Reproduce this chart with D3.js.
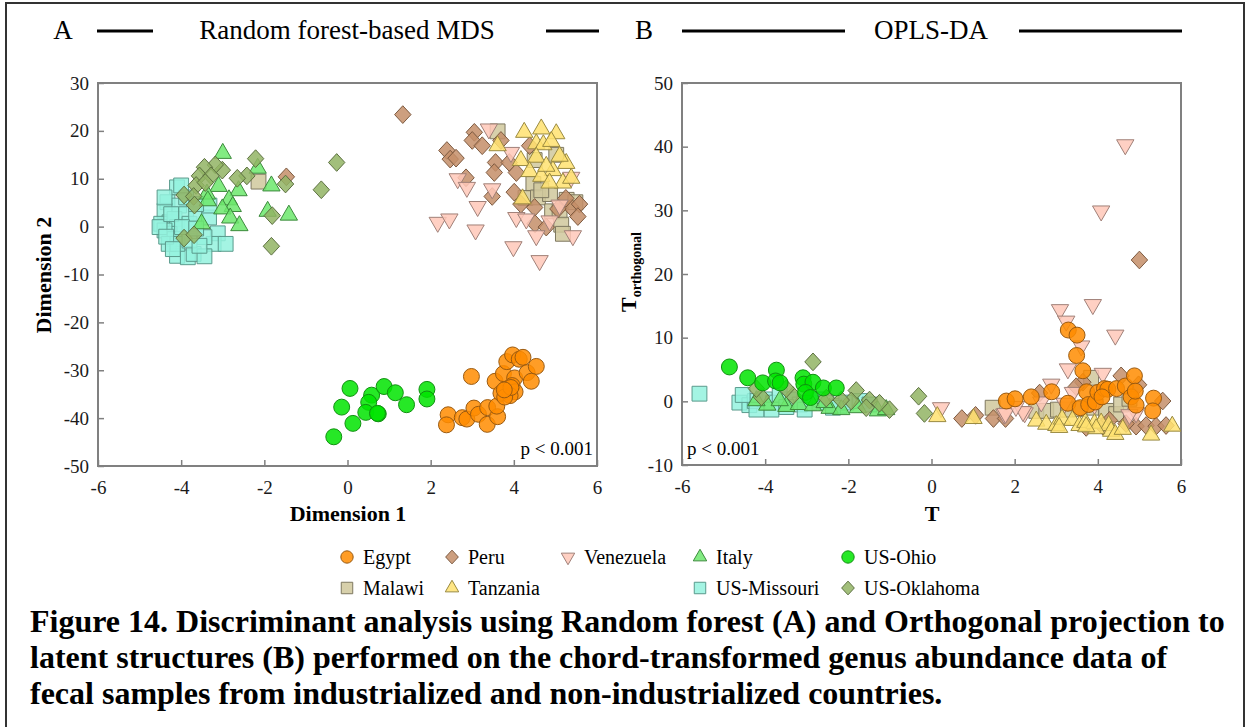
<!DOCTYPE html>
<html>
<head>
<meta charset="utf-8">
<script src="https://cdn.jsdelivr.net/npm/d3@7"></script>
<style>
  body { margin: 0; background: #fff; }
  svg { display: block; font-family: "Liberation Serif", "Times New Roman", serif; }
</style>
</head>
<body>
<svg id="chart" width="1249" height="727"></svg>
<script>
// ---- data: panel A (random forest MDS), [dim1, dim2]
const egyptA = [[2.42,-39.3],[2.38,-41.4],[2.76,-39.9],[2.87,-40.2],[2.98,-31.3],[3.04,-37.9],[3.15,-39.2],[3.37,-37.8],[3.36,-41.3],[3.61,-39.7],[3.59,-37.5],[3.55,-32.3],[3.75,-30.7],[3.69,-34.8],[3.80,-34.0],[3.83,-28.2],[3.97,-26.8],[4.13,-27.7],[4.22,-27.3],[4.02,-31.6],[3.96,-33.2],[4.03,-34.5],[3.91,-35.3],[3.78,-35.6],[4.32,-30.5],[4.54,-29.2],[4.42,-32.3],[3.93,-33.6],[3.77,-34.1]];
const ohioA = [[0.06,-33.8],[-0.14,-37.7],[0.58,-35.2],[0.51,-36.7],[0.44,-38.8],[0.74,-39.1],[0.72,-39.0],[0.88,-33.4],[1.15,-34.7],[1.42,-37.2],[1.91,-34.0],[1.91,-36.0],[0.13,-41.1],[-0.33,-43.9]];
const missouriA = [[-4.10,8.2],[-4.33,5.1],[-4.05,4.4],[-4.40,3.3],[-4.28,0.9],[-4.48,0.6],[-4.16,1.6],[-3.88,2.6],[-4.10,-0.1],[-4.28,-1.5],[-4.40,-0.8],[-4.16,-2.6],[-3.80,0.6],[-3.64,2.6],[-3.33,1.9],[-3.32,4.4],[-3.12,-1.4],[-3.22,-3.6],[-2.93,-3.6],[-3.44,-2.2],[-4.10,-6.1],[-3.84,-6.4],[-3.70,-5.7],[-3.44,-6.2],[-4.30,-3.6],[-4.09,-3.6],[-3.80,-2.9],[-4.40,6.1],[-3.88,6.1],[-3.64,4.7],[-4.00,8.6],[-4.52,-0.1],[-4.24,2.6],[-4.36,-2.1],[-3.98,-0.1],[-4.20,-4.7],[-3.64,-0.4],[-3.56,-4.0]];
const italyA = [[-3.00,15.3],[-2.16,12.2],[-3.10,8.4],[-2.62,7.5],[-1.83,8.5],[-3.38,6.8],[-3.36,5.4],[-2.85,5.6],[-2.76,4.2],[-3.01,3.7],[-2.82,1.8],[-2.60,0.2],[-1.92,3.2],[-1.41,2.4],[-3.51,0.6]];
const oklahomaA = [[-2.21,14.2],[-0.26,13.4],[-0.63,7.7],[-1.49,8.9],[-1.81,2.3],[-1.83,-4.1],[-2.42,10.6],[-2.65,10.1],[-3.01,11.8],[-3.18,12.9],[-3.44,12.4],[-3.56,10.6],[-3.28,10.6],[-3.64,8.6],[-3.93,6.6],[-3.70,6.3],[-3.68,4.5],[-3.93,-2.4],[-3.69,-1.7],[-3.42,9.2]];
const peruA = [[-1.47,10.4],[1.33,23.4],[3.05,19.7],[3.00,18.0],[3.24,16.9],[2.39,15.9],[2.47,14.1],[2.61,14.3],[2.85,10.2],[3.56,13.4],[3.53,11.3],[3.48,6.3],[3.89,13.4],[4.06,11.3],[4.01,7.2],[3.69,18.0],[4.38,16.9],[4.17,4.7],[4.50,4.0],[4.51,0.6],[4.78,-0.1],[5.38,4.0],[5.58,4.7],[5.54,2.1],[5.25,5.9],[5.06,3.7]];
const venezuelaA = [[3.40,20.4],[3.93,15.5],[2.65,10.0],[2.87,8.2],[3.48,7.9],[3.13,4.2],[2.17,0.9],[2.45,1.6],[3.08,-0.7],[3.99,-4.2],[4.54,-1.9],[4.62,-7.1],[4.06,1.9],[4.30,1.6],[5.38,10.3],[5.42,-1.9],[4.86,1.2],[5.10,4.5]];
const tanzaniaA = [[4.25,19.7],[4.66,20.4],[5.02,19.4],[3.61,16.9],[4.54,17.3],[4.71,17.1],[4.90,17.8],[4.17,13.8],[4.54,14.5],[5.26,13.2],[4.38,11.5],[4.94,11.7],[4.66,10.5],[5.18,9.1],[5.38,10.1],[4.21,5.8],[4.86,9.1],[4.78,12.6],[5.10,14.7]];
const malawiA = [[-2.14,9.4],[3.61,19.9],[5.02,15.0],[4.50,13.9],[4.47,8.9],[4.28,6.0],[4.58,6.1],[4.87,6.8],[5.27,5.6],[5.48,5.1],[4.92,3.2],[5.10,3.2],[5.14,0.4],[5.18,-1.5],[4.66,7.6]];

// ---- data: panel B (OPLS-DA), [T, T orthogonal]
const egyptB = [[3.29,11.2],[3.50,10.4],[3.49,7.2],[3.64,4.8],[1.80,0.05],[2.01,0.4],[2.40,0.7],[2.89,1.5],[3.28,-0.3],[3.58,-1.0],[3.73,1.5],[3.78,-0.5],[3.94,-0.1],[4.00,1.4],[4.16,2.0],[4.24,1.9],[4.10,0.7],[4.45,2.0],[4.66,2.4],[4.88,4.0],[4.80,0.7],[4.92,-0.6],[5.34,0.5],[5.32,-1.5],[4.90,1.6]];
const ohioB = [[-4.86,5.4],[-4.42,3.7],[-4.06,2.9],[-3.73,4.9],[-3.75,3.2],[-3.64,2.9],[-3.09,3.7],[-3.07,2.7],[-2.85,3.0],[-3.03,1.4],[-2.91,0.6],[-2.60,2.1],[-2.29,2.1]];
const missouriB = [[-5.58,1.2],[-4.62,-0.2],[-4.38,-0.6],[-4.25,0.05],[-4.54,1.0],[-4.01,0.3],[-3.81,-0.2],[-3.65,1.0],[-3.85,-1.3],[-3.41,0.3],[-3.17,-0.5],[-2.93,-0.2],[-2.69,0.3],[-2.53,-0.2],[-3.05,-1.3],[-2.21,-0.7],[-2.05,-0.2],[-1.73,0.05],[-1.49,-0.5],[-4.21,-1.3],[-3.49,-0.9],[-2.37,-1.0]];
const italyB = [[-3.95,-0.6],[-3.49,-0.8],[-3.19,-0.5],[-2.85,-0.7],[-2.45,-1.1],[-2.17,-1.3],[-1.77,-1.0],[-1.29,-1.5],[-1.09,-1.3],[-3.65,0.1],[-2.57,-0.2],[-4.21,0.1]];
const oklahomaB = [[-2.85,6.2],[-1.81,1.7],[-0.31,0.8],[-0.17,-1.9],[-1.93,0.05],[-1.49,0.2],[-1.57,-1.0],[-1.01,-1.3],[-4.09,0.7],[-3.33,0.9],[-3.49,2.0],[-2.17,0.2],[-2.53,0.5],[-1.25,-0.3],[-4.21,2.0]];
const peruB = [[5.00,22.2],[0.73,-2.7],[1.06,-2.2],[1.49,-2.7],[1.78,-2.7],[2.60,1.3],[3.64,3.0],[4.56,4.0],[4.98,2.6],[5.56,0.05],[4.92,-3.9],[5.16,-3.8],[5.40,-3.9],[4.68,-3.5],[5.64,-3.8],[3.72,-4.1],[4.12,-3.9],[3.48,2.3],[4.28,-3.0]];
const venezuelaB = [[4.66,40.3],[4.08,29.9],[3.88,15.2],[3.09,14.4],[3.24,12.6],[4.42,10.4],[3.60,8.7],[3.28,5.1],[4.12,4.4],[2.88,2.7],[1.75,-2.0],[2.24,-1.8],[3.40,1.4],[4.92,-1.8],[0.23,-1.0],[1.78,-1.9],[2.20,-1.6],[2.03,-0.8],[3.20,-0.3],[2.64,-0.1],[3.92,-0.5],[4.76,-2.1]];
const tanzaniaB = [[0.14,-2.4],[1.01,-2.7],[2.52,-3.1],[2.76,-3.6],[3.00,-3.8],[3.14,-2.8],[3.39,-3.0],[3.56,-3.8],[3.70,-3.3],[3.92,-3.5],[4.08,-3.4],[4.26,-3.8],[4.32,-4.7],[4.42,-5.2],[4.60,-4.4],[5.28,-5.3],[5.79,-3.9],[3.07,-4.1],[3.96,-4.3],[3.72,-4.0]];
const malawiB = [[1.47,-1.0],[2.52,-1.5],[2.76,-1.5],[3.04,-1.3],[3.84,3.7],[4.20,-1.5],[4.44,-2.0],[4.56,-0.5],[3.84,-1.0],[3.28,-1.3],[3.56,-1.2],[4.76,0.4]];

// ticks
const xTicks = [-6, -4, -2, 0, 2, 4, 6];
const yTicksA = [-50, -40, -30, -20, -10, 0, 10, 20, 30];
const yTicksB = [-10, 0, 10, 20, 30, 40, 50];

// legend rows as they appear
const legendRow1 = ['Egypt', 'Peru', 'Venezuela', 'Italy', 'US-Ohio'];
const legendRow2 = ['Malawi', 'Tanzania', null, 'US-Missouri', 'US-Oklahoma'];

const svg = d3.select('#chart');

// custom diamond (a rotated square, slightly tall)
const diamond = {
  draw(ctx, size) {
    const r = Math.sqrt(size) * 0.58;
    ctx.moveTo(0, -r * 1.08);
    ctx.lineTo(r, 0);
    ctx.lineTo(0, r * 1.08);
    ctx.lineTo(-r, 0);
    ctx.closePath();
  }
};
const triDown = {
  draw(ctx, size) {
    const s = Math.sqrt(size * 4 / Math.sqrt(3));
    const h = s * Math.sqrt(3) / 2;
    ctx.moveTo(-s / 2, -h / 3);
    ctx.lineTo(s / 2, -h / 3);
    ctx.lineTo(0, 2 * h / 3);
    ctx.closePath();
  }
};

// style per country
const styles = {
  'Egypt':       { sym: d3.symbolCircle,   fill: '#ff8c00', stroke: '#9a5a10', size: 200 },
  'Peru':        { sym: diamond,           fill: '#c48e68', stroke: '#7d5a40', size: 200 },
  'Venezuela':   { sym: triDown,           fill: '#ffc8b8', stroke: '#a08078', size: 130 },
  'Italy':       { sym: d3.symbolTriangle, fill: '#6ce86c', stroke: '#3c8a3c', size: 130 },
  'US-Ohio':     { sym: d3.symbolCircle,   fill: '#00e400', stroke: '#109010', size: 200 },
  'Malawi':      { sym: d3.symbolSquare,   fill: '#d0c89c', stroke: '#7e7860', size: 220 },
  'Tanzania':    { sym: d3.symbolTriangle, fill: '#ffe270', stroke: '#9a8a40', size: 130 },
  'US-Missouri': { sym: d3.symbolSquare,   fill: '#94f2de', stroke: '#5a9a8c', size: 220 },
  'US-Oklahoma': { sym: diamond,           fill: '#92b464', stroke: '#5c7040', size: 200 }
};

// drawing order (first drawn = bottom)
const layersA = [
  ['US-Missouri', missouriA], ['Malawi', malawiA], ['Peru', peruA], ['Venezuela', venezuelaA],
  ['Tanzania', tanzaniaA], ['Italy', italyA], ['US-Oklahoma', oklahomaA], ['Egypt', egyptA], ['US-Ohio', ohioA]
];
const layersB = [
  ['US-Missouri', missouriB], ['Malawi', malawiB], ['Peru', peruB], ['Venezuela', venezuelaB],
  ['Tanzania', tanzaniaB], ['Italy', italyB], ['US-Oklahoma', oklahomaB], ['US-Ohio', ohioB], ['Egypt', egyptB]
];

// figure frame
svg.append('rect')
  .attr('x', 6).attr('y', 3).attr('width', 1238).attr('height', 740)
  .attr('fill', 'none').attr('stroke', '#333').attr('stroke-width', 2);

function panel(opts) {
  const { left, right, top, bottom, yDomain, yTicks, layers } = opts;
  const x = d3.scaleLinear().domain([-6, 6]).range([left, right]);
  const y = d3.scaleLinear().domain(yDomain).range([bottom, top]);
  const g = svg.append('g');

  // plain hyphen for negatives, like the original
  const fmt = d => String(d);
  const xAxis = d3.axisBottom(x).tickValues(xTicks).tickSizeInner(-6).tickSizeOuter(0).tickPadding(15)
    .tickFormat(fmt);
  const yAxis = d3.axisLeft(y).tickValues(yTicks).tickSizeInner(-6).tickSizeOuter(0).tickPadding(9)
    .tickFormat(fmt);

  const gx = g.append('g').attr('transform', `translate(0,${bottom})`).call(xAxis);
  const gy = g.append('g').attr('transform', `translate(${left},0)`).call(yAxis);
  [gx, gy].forEach(a => {
    a.select('.domain').remove();
    a.selectAll('line').attr('stroke', '#808080').attr('stroke-width', 1.5);
    a.selectAll('text').attr('font-size', 19).attr('fill', '#1a1a1a')
      .attr('font-family', '"Liberation Serif", serif');
  });

  // frame box
  g.append('rect')
    .attr('x', left).attr('y', top).attr('width', right - left).attr('height', bottom - top)
    .attr('fill', 'none').attr('stroke', '#808080').attr('stroke-width', 2);

  const marks = g.append('g');
  layers.forEach(([name, pts]) => {
    const s = styles[name];
    marks.append('g').selectAll('path')
      .data(pts)
      .join('path')
      .attr('transform', d => `translate(${x(d[0])},${y(d[1])})`)
      .attr('d', d3.symbol().type(s.sym).size(s.size))
      .attr('fill', s.fill)
      .attr('fill-opacity', 0.85)
      .attr('stroke', s.stroke)
      .attr('stroke-width', 1);
  });
  return { x, y, g };
}

const pA = panel({ left: 98, right: 597, top: 83, bottom: 466, yDomain: [-50, 30], yTicks: yTicksA, layers: layersA });
const pB = panel({ left: 682, right: 1181, top: 83, bottom: 465, yDomain: [-10, 50], yTicks: yTicksB, layers: layersB });

// p-values
pA.g.append('text').attr('x', 593).attr('y', 455).attr('text-anchor', 'end')
  .attr('font-size', 19).text('p < 0.001');
pB.g.append('text').attr('x', 687).attr('y', 455)
  .attr('font-size', 19).text('p < 0.001');

// axis titles
svg.append('text').attr('x', 348).attr('y', 521).attr('text-anchor', 'middle')
  .attr('font-size', 22).attr('font-weight', 'bold').text('Dimension 1');
svg.append('text').attr('transform', 'translate(51,275) rotate(-90)').attr('text-anchor', 'middle')
  .attr('font-size', 22).attr('font-weight', 'bold').text('Dimension 2');
svg.append('text').attr('x', 932).attr('y', 521).attr('text-anchor', 'middle')
  .attr('font-size', 22).attr('font-weight', 'bold').text('T');
const yl = svg.append('text').attr('transform', 'translate(636,272) rotate(-90)').attr('text-anchor', 'middle')
  .attr('font-weight', 'bold');
yl.append('tspan').attr('font-size', 22).text('T');
yl.append('tspan').attr('font-size', 14).attr('dy', 5).text('orthogonal');

// panel headers
const header = [
  { label: 'A', lx: 63, title: 'Random forest-based MDS', tx: 347, lines: [[97, 153], [546, 599]] },
  { label: 'B', lx: 644, title: 'OPLS-DA', tx: 931, lines: [[682, 845], [1019, 1182]] }
];
header.forEach(h => {
  svg.append('text').attr('x', h.lx).attr('y', 39).attr('text-anchor', 'middle')
    .attr('font-size', 27).text(h.label);
  svg.append('text').attr('x', h.tx).attr('y', 39).attr('text-anchor', 'middle')
    .attr('font-size', 27).text(h.title);
  h.lines.forEach(([a, b]) => {
    svg.append('line').attr('x1', a).attr('x2', b).attr('y1', 31).attr('y2', 31)
      .attr('stroke', '#000').attr('stroke-width', 3);
  });
});

// legend
const legendCols = [347, 452, 568, 700, 848];
[[legendRow1, 557], [legendRow2, 588]].forEach(([row, ly]) => {
  row.forEach((name, i) => {
    if (!name) return;
    const s = styles[name];
    const cx = legendCols[i];
    svg.append('path')
      .attr('transform', `translate(${cx},${ly})`)
      .attr('d', d3.symbol().type(s.sym).size(s.size * 0.6))
      .attr('fill', s.fill).attr('fill-opacity', 0.85)
      .attr('stroke', s.stroke).attr('stroke-width', 1);
    svg.append('text').attr('x', cx + 16).attr('y', ly + 7)
      .attr('font-size', 20).text(name);
  });
});

// caption
const caption = [
  'Figure 14. Discriminant analysis using Random forest (A) and Orthogonal projection to',
  'latent structures (B) performed on the chord-transformed genus abundance data of',
  'fecal samples from industrialized and non-industrialized countries.'
];
caption.forEach((t, i) => {
  svg.append('text').attr('x', 30).attr('y', 632 + i * 36)
    .attr('font-size', 32).attr('font-weight', 'bold').text(t);
});
</script>
</body>
</html>
